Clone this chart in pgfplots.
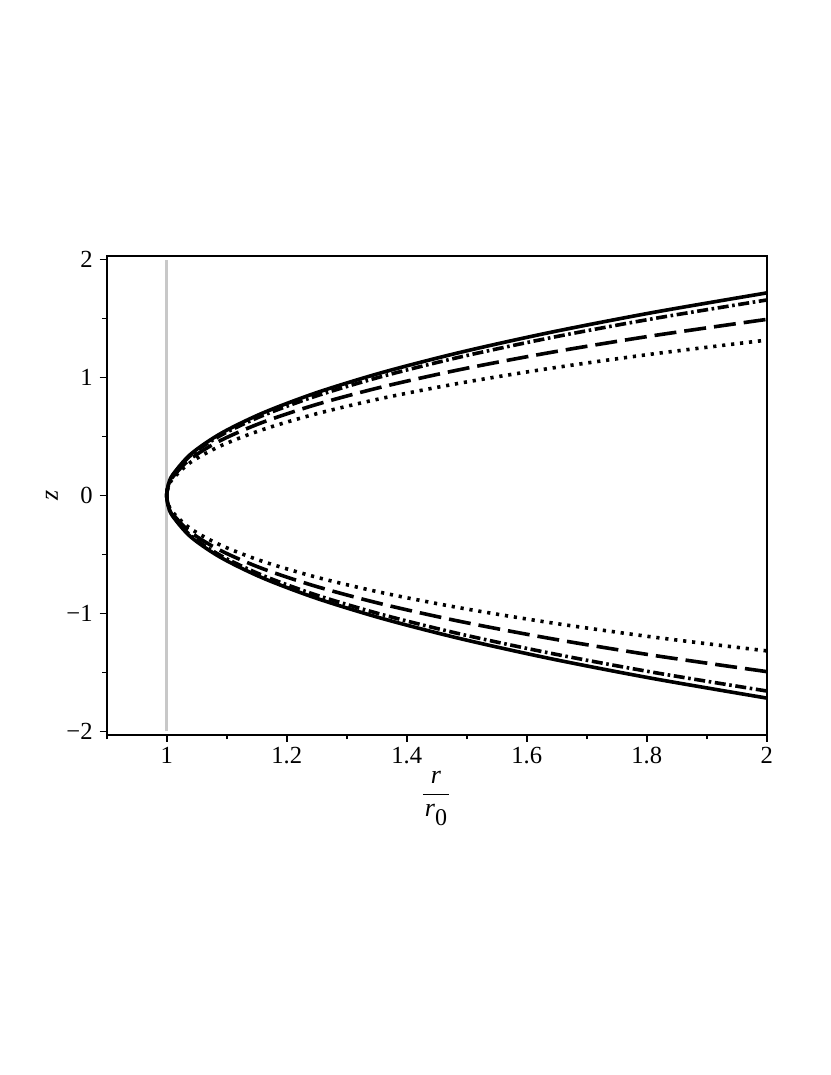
\documentclass[border=0pt]{standalone}
\usepackage{amsmath}
\usepackage{fontspec}
\setmainfont{Liberation Serif}
\usepackage{pgfplots}
\pgfplotsset{compat=1.18}
\definecolor{throat}{RGB}{200,200,200}
\begin{document}
\begin{tikzpicture}
\useasboundingbox (-53.35pt,-170pt) rectangle (361.65pt,367.5pt);
\begin{axis}[
  scale only axis,
  width=330pt, height=239.5pt,
  xmin=0.9, xmax=2, ymin=-2.03, ymax=2.03,
  axis line style={line width=0.9pt},
  xtick={1,1.2,1.4,1.6,1.8,2},
  xticklabels={1,1.2,1.4,1.6,1.8,2},
  minor xtick={0.9,1.1,1.3,1.5,1.7,1.9},
  ytick={-2,-1,0,1,2},
  yticklabels={−2,−1,0,1,2},
  minor ytick={-1.5,-0.5,0.5,1.5},
  tick align=outside,
  xtick pos=bottom, ytick pos=left,
  major tick length=3.5pt, minor tick length=2.2pt,
  every tick/.style={black, line width=0.9pt},
  tick label style={font=\fontsize{12.3}{14}\selectfont},
  xticklabel style={yshift=1pt},
  xlabel={\fontsize{13}{15}\selectfont$\dfrac{\hspace{1pt}\textit{r}\hspace{1pt}}{\hspace{1pt}\textit{r}\raisebox{-4.5pt}{\fontsize{12}{12}\selectfont 0}\hspace{1pt}}$},
  xlabel style={at={(axis description cs:0.499,-0.133)}, anchor=center},
  ylabel={\fontsize{13}{15}\selectfont\textit{z}},
  ylabel style={at={(axis description cs:-0.083,0.5)}, anchor=center},
]
\addplot[throat, line width=1.6pt] coordinates {(1,-2) (1,2)};
% dotted
\addplot[black, line width=1.8pt, line cap=butt, dash pattern=on 1.6pt off 2.9pt, smooth] coordinates {
(2.00,-1.31696) (1.81,-1.19957) (1.64,-1.07836) (1.49,-0.95343) (1.36,-0.82494) (1.25,-0.69315)
(1.16,-0.55839) (1.09,-0.42114) (1.04,-0.28191) (1.01,-0.14130) (1.0025,-0.07070) (1,0)
(1.0025,0.07070) (1.01,0.14130) (1.04,0.28191) (1.09,0.42114) (1.16,0.55839) (1.25,0.69315)
(1.36,0.82494) (1.49,0.95343) (1.64,1.07836) (1.81,1.19957) (2.00,1.31696)};
% dashed
\addplot[black, line width=1.8pt, line cap=butt, dash pattern=on 11pt off 4pt, smooth] coordinates {
(2.00,-1.49271) (1.81,-1.35409) (1.64,-1.21258) (1.49,-1.06828) (1.36,-0.92134) (1.25,-0.77196)
(1.16,-0.62041) (1.09,-0.46701) (1.04,-0.31218) (1.01,-0.15634) (1.0025,-0.07824) (1,0)
(1.0025,0.07824) (1.01,0.15634) (1.04,0.31218) (1.09,0.46701) (1.16,0.62041) (1.25,0.77196)
(1.36,0.92134) (1.49,1.06828) (1.64,1.21258) (1.81,1.35409) (2.00,1.49271)};
% dash-dot
\addplot[black, line width=1.8pt, line cap=butt, dash pattern=on 5.5pt off 1.8pt on 1.3pt off 1.8pt, smooth] coordinates {
(2.00,-1.65703) (1.81,-1.49811) (1.64,-1.33733) (1.49,-1.17477) (1.36,-1.01052) (1.25,-0.84473)
(1.16,-0.67757) (1.09,-0.50925) (1.04,-0.34002) (1.01,-0.17017) (1.0025,-0.08512) (1,0)
(1.0025,0.08512) (1.01,0.17017) (1.04,0.34002) (1.09,0.50925) (1.16,0.67757) (1.25,0.84473)
(1.36,1.01052) (1.49,1.17477) (1.64,1.33733) (1.81,1.49811) (2.00,1.65703)};
% solid
\addplot[black, line width=1.8pt, smooth] coordinates {
(2.00,-1.71704) (1.81,-1.55087) (1.64,-1.38319) (1.49,-1.21404) (1.36,-1.04353) (1.25,-0.87175)
(1.16,-0.69885) (1.09,-0.52501) (1.04,-0.35043) (1.01,-0.17535) (1.0025,-0.08771) (1,0)
(1.0025,0.08771) (1.01,0.17535) (1.04,0.35043) (1.09,0.52501) (1.16,0.69885) (1.25,0.87175)
(1.36,1.04353) (1.49,1.21404) (1.64,1.38319) (1.81,1.55087) (2.00,1.71704)};
\end{axis}
\end{tikzpicture}
\end{document}
